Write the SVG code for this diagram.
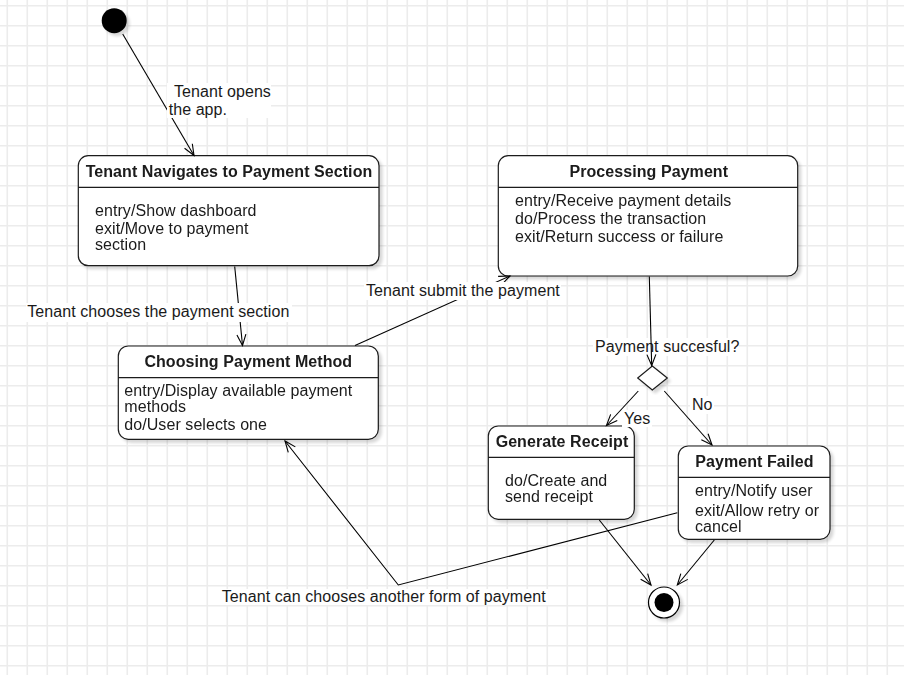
<svg xmlns="http://www.w3.org/2000/svg" width="904" height="675" viewBox="0 0 904 675">
<defs>
<pattern id="grid" width="20" height="20" patternUnits="userSpaceOnUse"><path d="M7.3 0V20M0 5.7H20" stroke="#ececec" stroke-width="1.6" fill="none"/></pattern>
<marker id="arr" markerUnits="userSpaceOnUse" markerWidth="14" markerHeight="14" viewBox="-12 -7 14 14" refX="0" refY="0" orient="auto"><path d="M-11,-4.5 L0,0 L-11,4.5" fill="none" stroke="#000" stroke-width="1.1"/></marker>
<filter id="sh" x="-10%" y="-10%" width="130%" height="130%"><feOffset dx="3" dy="3" in="SourceAlpha" result="o"/><feGaussianBlur in="o" stdDeviation="1.5" result="b"/><feComponentTransfer in="b" result="c"><feFuncA type="linear" slope="0.16"/></feComponentTransfer><feMerge><feMergeNode in="c"/><feMergeNode in="SourceGraphic"/></feMerge></filter>
</defs>
<style>
.box{fill:#fff;stroke:#1a1a1a;stroke-width:1.2}
.sep{stroke:#1a1a1a;stroke-width:1.2}
.t{font-family:"Liberation Sans",Arial,sans-serif;font-size:16px;letter-spacing:0.07px;fill:#1a1a1a}
.b{font-weight:bold}
.m{text-anchor:middle}
.edge{fill:none;stroke:#000;stroke-width:1.1}
.lbg{fill:#fff}
</style>
<rect width="904" height="675" fill="#fff"/>
<rect width="904" height="675" fill="url(#grid)"/>

<g id="start" filter="url(#sh)"><circle cx="114.2" cy="20.7" r="12.5" fill="#000"/></g>

<g id="node-navigate" filter="url(#sh)">
<rect class="box" x="78.3" y="155.7" width="300.7" height="110" rx="10"/>
<line class="sep" x1="78.3" y1="187.3" x2="379" y2="187.3"/>
<text class="t b m" x="229" y="177">Tenant Navigates to Payment Section</text>
<text class="t" x="95" y="215.5">entry/Show dashboard</text>
<text class="t" x="95" y="234">exit/Move to payment</text>
<text class="t" x="95" y="250">section</text>
</g>

<g id="node-processing" filter="url(#sh)">
<rect class="box" x="498.3" y="155.7" width="299.4" height="120.3" rx="10"/>
<line class="sep" x1="498.3" y1="187.3" x2="797.7" y2="187.3"/>
<text class="t b m" x="648.8" y="177">Processing Payment</text>
<text class="t" x="515" y="205.5">entry/Receive payment details</text>
<text class="t" x="515" y="224">do/Process the transaction</text>
<text class="t" x="515" y="242">exit/Return success or failure</text>
</g>

<g id="node-choosing" filter="url(#sh)">
<rect class="box" x="118.3" y="346" width="260" height="93.3" rx="10"/>
<line class="sep" x1="118.3" y1="377.7" x2="378.3" y2="377.7"/>
<text class="t b m" x="248.3" y="366.5">Choosing Payment Method</text>
<text class="t" x="124.3" y="395.5">entry/Display available payment</text>
<text class="t" x="124.3" y="411.5">methods</text>
<text class="t" x="124.3" y="430">do/User selects one</text>
</g>

<g id="node-receipt" filter="url(#sh)">
<rect class="box" x="488.3" y="426" width="146" height="93.3" rx="10"/>
<line class="sep" x1="488.3" y1="457.3" x2="634.3" y2="457.3"/>
<text class="t b m" x="562" y="447">Generate Receipt</text>
<text class="t" x="505" y="485.5">do/Create and</text>
<text class="t" x="505" y="501.5">send receipt</text>
</g>

<g id="node-failed" filter="url(#sh)">
<rect class="box" x="678.3" y="446" width="151.7" height="93.3" rx="10"/>
<line class="sep" x1="678.3" y1="477.3" x2="830" y2="477.3"/>
<text class="t b m" x="754.5" y="467">Payment Failed</text>
<text class="t" x="695" y="495.5">entry/Notify user</text>
<text class="t" x="695" y="516">exit/Allow retry or</text>
<text class="t" x="695" y="532">cancel</text>
</g>

<g id="decision" filter="url(#sh)">
<path d="M652.3,366 L667.3,378 L652.3,390 L637.7,378 Z" fill="#fff" stroke="#1a1a1a" stroke-width="1.2"/>
</g>

<g id="end" filter="url(#sh)">
<circle cx="664" cy="602.5" r="15.5" fill="#fff" stroke="#000" stroke-width="1.2"/>
<circle cx="664" cy="602.5" r="9.5" fill="#000"/>
</g>

<g id="label-decision">
<rect class="lbg" x="593" y="338" width="146" height="18"/>
<text class="t" x="595" y="352">Payment succesful?</text>
</g>

<g id="connectors">
<path class="edge" d="M122.7,34 L194,155.5" marker-end="url(#arr)"/>
<path class="edge" d="M234.7,266.5 L242.5,345.5" marker-end="url(#arr)"/>
<path class="edge" d="M355,345.5 L510,276" marker-end="url(#arr)"/>
<path class="edge" d="M649.3,276.5 L651.7,365.5" marker-end="url(#arr)"/>
<path class="edge" d="M638.3,391 L606.5,425.5" marker-end="url(#arr)"/>
<path class="edge" d="M664.3,391 L712,445" marker-end="url(#arr)"/>
<path class="edge" d="M599.3,520 L651,585" marker-end="url(#arr)"/>
<path class="edge" d="M714.3,540 L677.3,585" marker-end="url(#arr)"/>
<path class="edge" d="M677.3,512.7 L398.3,585 L285,441" marker-end="url(#arr)"/>
</g>

<g id="labels">
<rect class="lbg" x="167" y="83" width="104" height="35"/>
<text class="t" x="174" y="97">Tenant opens</text>
<text class="t" x="168.7" y="114.5">the app.</text>
<rect class="lbg" x="26" y="303" width="266" height="19"/>
<text class="t" x="27.3" y="317">Tenant chooses the payment section</text>
<rect class="lbg" x="364" y="282" width="197" height="18"/>
<text class="t" x="366" y="296">Tenant submit the payment</text>
<rect class="lbg" x="622" y="410" width="30" height="17"/>
<text class="t" x="624" y="423.5">Yes</text>
<rect class="lbg" x="690" y="396" width="24" height="18"/>
<text class="t" x="692" y="409.5">No</text>
<rect class="lbg" x="220" y="589" width="328" height="16"/>
<text class="t" x="221.7" y="602">Tenant can chooses another form of payment</text>
</g>
</svg>
